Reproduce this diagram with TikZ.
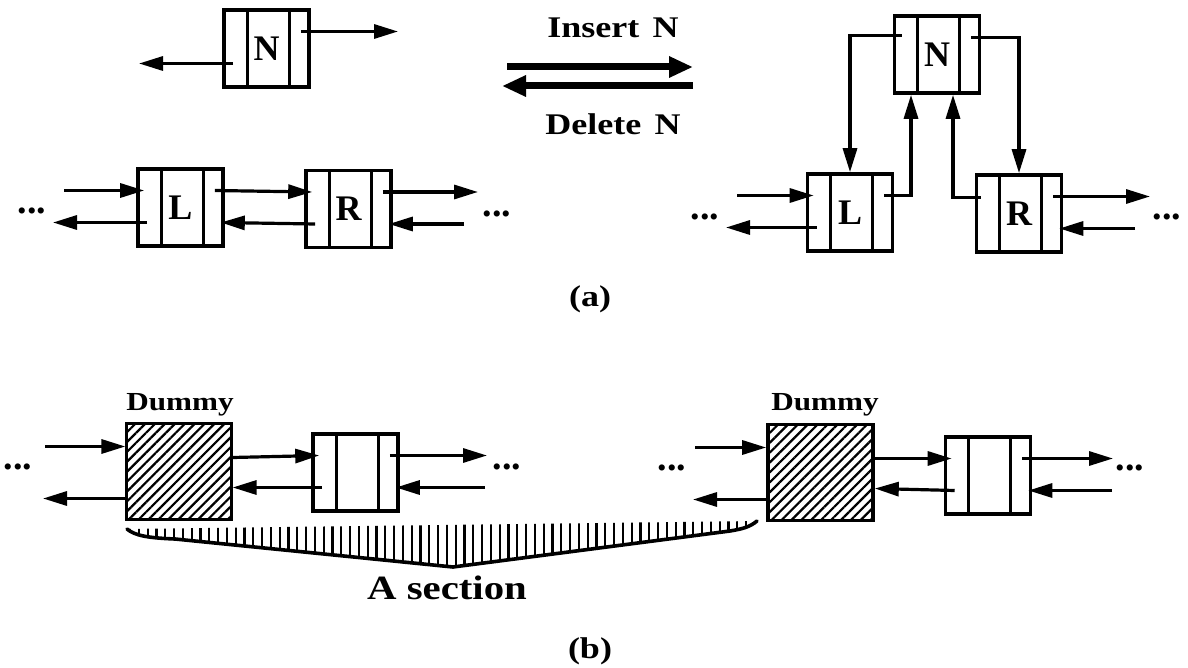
\documentclass[tikz,border=0pt]{standalone}
\usepackage{fontspec}
\setmainfont{Liberation Serif}
\newfontfamily\widefont[FakeStretch=1.2]{Liberation Serif}
\usetikzlibrary{arrows.meta,calc,patterns.meta}

\tikzset{
  cell/.style={draw, line width=3.6pt, minimum width=85pt, minimum height=77pt, inner sep=0pt,
    font=\fontsize{36}{36}\selectfont\bfseries,
    path picture={\draw[line width=3pt]
      ([xshift=23pt]path picture bounding box.north west) -- ([xshift=23pt]path picture bounding box.south west)
      ([xshift=-20pt]path picture bounding box.north east) -- ([xshift=-20pt]path picture bounding box.south east);}},
  dummybox/.style={draw, line width=3.6pt, minimum width=105pt, minimum height=96pt, inner sep=0pt,
    pattern={Lines[angle=45,distance=7pt,line width=2.2pt]}},
  ptr/.style={line width=3.2pt, -{Triangle[length=24pt,width=14pt]}},
  bigptr/.style={line width=7pt, -{Triangle[length=24pt,width=20pt]}},
  dots/.style={font=\fontsize{38}{38}\selectfont\bfseries, inner sep=0pt},
  lbl/.style={font=\widefont\bfseries\fontsize{30}{30}\selectfont, inner sep=0pt}
}

\begin{document}
\begin{tikzpicture}[x=1pt,y=-1pt]
\useasboundingbox (0,0) rectangle (1188,668);
% (a) cells
\node[cell] (Nt) at (266.5,48.5) {N};
\node[cell] (La) at (180.5,207.5) {L};
\node[cell] (Ra) at (348.5,209) {R};
\node[cell] (Nr) at (937,54.5) {N};
\node[cell] (Lr) at (850,212.5) {L};
\node[cell] (Rr) at (1019,213.5) {R};
% (b) dummies and cells
\node[dummybox] (Da) at (179,471.5) {};
\node[cell] (Ca) at (355.5,472.5) {};
\node[dummybox] (Db) at (820.5,472.5) {};
\node[cell] (Cb) at (988,475.5) {};

% pointer ends inside the side fields
\foreach \c in {Nt,La,Ra,Nr,Lr,Rr,Ca,Cb} {
  \coordinate (\c-li) at ($(\c.west)+(8,-17)$);
  \coordinate (\c-lo) at ($(\c.west)+(11,15)$);
  \coordinate (\c-ro) at ($(\c.east)+(-10,-17)$);
  \coordinate (\c-ri) at ($(\c.east)+(-4,15)$);
}
\foreach \d in {Da,Db} {
  \coordinate (\d-li) at ($(\d.west)+(0,-25)$);
  \coordinate (\d-lo) at ($(\d.west)+(0,27)$);
  \coordinate (\d-ro) at ($(\d.east)+(0,-14)$);
  \coordinate (\d-ri) at ($(\d.east)+(0,16)$);
}
\coordinate (Nr-lu) at ($(Nr.west)+(9,-19)$);
\coordinate (Rr-lu) at ($(Rr.west)+(6,-16)$);
\coordinate (Nr-bl) at ($(Nr.south)+(-26,0)$);
\coordinate (Nr-br) at ($(Nr.south)+(16,0)$);

% free ends
\foreach \p/\x in {Nt-ro/398,Nt-lo/139,La-li/64,La-lo/53,Ra-ro/478,Ra-ri/464,
                   Lr-li/737,Lr-lo/726,Rr-ro/1150,Rr-ri/1135,
                   Da-li/45,Da-lo/43,Ca-ro/487,Ca-ri/485,
                   Db-li/695,Db-lo/693,Cb-ro/1113,Cb-ri/1112}
  \coordinate (\p-e) at (\p -| \x,0);

% pointers
\foreach \a/\b in {Nt-ro/Nt-ro-e,Nt-lo/Nt-lo-e,
                   La-li-e/La-li,La-lo/La-lo-e,La-ro/Ra-li,Ra-lo/La-ri,Ra-ro/Ra-ro-e,Ra-ri-e/Ra-ri,
                   Lr-li-e/Lr-li,Lr-lo/Lr-lo-e,Rr-ro/Rr-ro-e,Rr-ri-e/Rr-ri,
                   Da-li-e/Da-li,Da-lo/Da-lo-e,Da-ro/Ca-li,Ca-lo/Da-ri,Ca-ro/Ca-ro-e,Ca-ri-e/Ca-ri,
                   Db-li-e/Db-li,Db-lo/Db-lo-e,Db-ro/Cb-li,Cb-lo/Db-ri,Cb-ro/Cb-ro-e,Cb-ri-e/Cb-ri}
  \draw[ptr] (\a) -- (\b);
\draw[ptr] (Nr-lu) -| (Lr.north);
\draw[ptr] (Nr-ro) -| (Rr.north);
\draw[ptr] (Lr-ro) -| (Nr-bl);
\draw[ptr] (Rr-lu) -| (Nr-br);

% insert / delete
\coordinate (ins-s) at (507,67);
\coordinate (ins-e) at (693,67);
\coordinate (del-s) at (693,86);
\coordinate (del-e) at (502,86);
\draw[bigptr] (ins-s) -- (ins-e);
\draw[bigptr] (del-s) -- (del-e);
\node[lbl] (ins) at (613,28) {Insert\hspace{0.45em}N};
\node[lbl] (del) at (613,124) {Delete\hspace{0.45em}N};

% dots
\foreach \n/\x/\y in {d1/32/211,d2/497/214,d3/705/217,d4/1167/217,
                      d5/18/467,d6/507/467,d7/672/468,d8/1130/468}
  \node[dots] (\n) at (\x,\y) {...};

\node[lbl,font=\widefont\bfseries\fontsize{26}{26}\selectfont] (dl1) at (180,405) {Dummy};
\node[lbl,font=\widefont\bfseries\fontsize{26}{26}\selectfont] (dl2) at (825,405) {Dummy};

% hatched brace
\begin{scope}
\clip (127,529) -- (757,521) .. controls (750,527) and (742,529) .. (730,531) -- (453,567)
      -- (175,539) .. controls (150,538) and (135,536) .. (127,529) -- cycle;
\foreach \x in {130,138.8,...,757} \draw[line width=2.2pt] (\x,510) -- (\x,580);
\end{scope}
\draw[line width=3.6pt,line cap=round] (127,529) .. controls (135,536) and (150,538) .. (175,539)
      -- (453,567) -- (730,531) .. controls (742,529) and (750,527) .. (757,521);
\node[lbl,font=\widefont\bfseries\fontsize{34}{34}\selectfont] (sec) at (447,588) {A section};

\node[lbl] (capa) at (590,299) {(a)};
\node[lbl] (capb) at (590,651) {(b)};
\end{tikzpicture}
\end{document}
